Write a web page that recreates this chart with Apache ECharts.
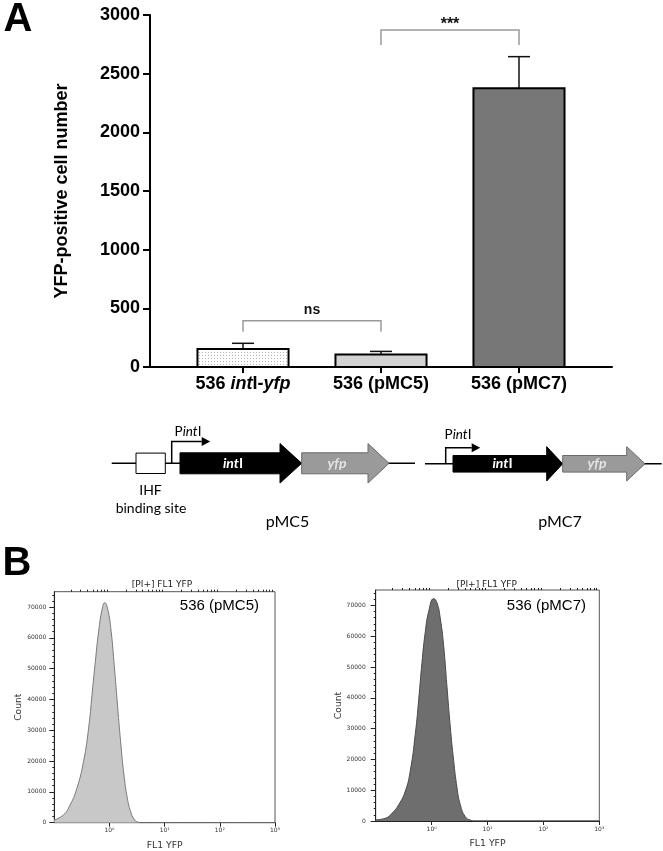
<!DOCTYPE html>
<html><head><meta charset="utf-8">
<script src="https://cdn.jsdelivr.net/npm/echarts@6/dist/echarts.min.js"></script>
<style>html,body{margin:0;padding:0;background:#fff}#c{width:663px;height:851px}</style>
</head><body><div id="c"></div>
<script>
// ---------- Panel A data ----------
const categories = ['536 intI-yfp', '536 (pMC5)', '536 (pMC7)'];
const barMeans = [153, 107, 2375];
const barErrors = [49, 26, 270];
const yTickValues = [0, 500, 1000, 1500, 2000, 2500, 3000];
const sigFrom = [0, 1];
const sigTo = [1, 2];
const sigTop = [395, 2872];
const sigDrop = [300, 2745];
const sigLabels = ['ns', '***'];
// ---------- Panel B data ----------
const pmc5FL1 = [0.1, 0.146, 0.194, 0.257, 0.339, 0.419, 0.483, 0.555, 0.637, 0.735, 0.82, 0.93, 1.07, 1.23, 1.38, 1.59, 1.83, 2.11, 2.42, 2.78, 3.29, 4.0, 10, 100, 1000];
const pmc5Count = [900, 2500, 5800, 11200, 19900, 30700, 41600, 52400, 62200, 69300, 71460, 69300, 62200, 50300, 39400, 26400, 15500, 7900, 3600, 1200, 200, 0, 0, 0, 0];
const pmc7FL1 = [0.1, 0.149, 0.196, 0.258, 0.339, 0.416, 0.512, 0.588, 0.673, 0.771, 0.887, 1.09, 1.25, 1.43, 1.64, 1.88, 2.16, 2.48, 2.85, 3.26, 4.0, 4.92, 6, 10, 100, 1000];
const pmc7Count = [400, 900, 2500, 5300, 9700, 16300, 28400, 39400, 51500, 61400, 68000, 72200, 70800, 65800, 57000, 43800, 30600, 19600, 10800, 5300, 1400, 300, 0, 0, 0, 0];
const histYTicks = [0, 10000, 20000, 30000, 40000, 50000, 60000, 70000];
const histXTicks = [1, 10, 100, 1000];
const histXTickLabels = ['10\u2070', '10\u00b9', '10\u00b2', '10\u00b3'];
const histTitles = ['536 (pMC5)', '536 (pMC7)'];

// ---------- styling ----------
const AR = '"Liberation Sans", Arial, sans-serif';
const DJ = '"DejaVu Sans", sans-serif';
const LT = 'Lato, "Open Sans", sans-serif';

const pc = document.createElement('canvas');
pc.width = 3; pc.height = 3;
const pctx = pc.getContext('2d');
pctx.fillStyle = '#fff'; pctx.fillRect(0, 0, 3, 3);
pctx.fillStyle = '#b4b4b4'; pctx.fillRect(1, 1, 1, 1);
const barFills = [{image: pc, repeat: 'repeat'}, '#d3d3d3', '#777777'];
const BAR_HALF = 0.33, CAP_HALF = 0.08;
const sigTextOffset = [-11, -5];

function richLabel(name) {
  const parts = name.split(/(int|yfp)/).filter(s => s.length);
  return parts.map(p => (p === 'int' || p === 'yfp') ? '{bi|' + p + '}' : '{b|' + p + '}').join('');
}

const minorLog = [];
[0.1, 1, 10, 100].forEach(d => { for (let k = 2; k <= 9; k++) minorLog.push(+(d * k).toPrecision(3)); });

function histAxesX(gi) {
  return [
    {type: 'log', gridIndex: gi, min: 0.1, max: 1000, logBase: 10,
     name: 'FL1 YFP', nameLocation: 'middle', nameGap: 18,
     nameTextStyle: {fontFamily: DJ, fontSize: 9.3, color: '#333'},
     axisLine: {lineStyle: {color: '#222', width: 1}},
     axisTick: {customValues: histXTicks, length: 4, lineStyle: {color: '#222'}},
     axisLabel: {customValues: histXTicks, formatter: v => histXTickLabels[histXTicks.indexOf(v)] || '',
       fontFamily: DJ, fontSize: 6, color: '#333', margin: 5},
     splitLine: {show: false}},
    {type: 'log', gridIndex: gi, min: 0.1, max: 1000, logBase: 10,
     axisLine: {show: false},
     axisTick: {customValues: minorLog, length: 2, lineStyle: {color: '#222'}},
     axisLabel: {show: false}, splitLine: {show: false}}
  ];
}
function histAxisY(gi, margin, gap) {
  return {type: 'value', gridIndex: gi, min: 0, max: 75000, interval: 10000,
    name: 'Count', nameLocation: 'middle', nameGap: gap, nameRotate: 90,
    nameTextStyle: {fontFamily: DJ, fontSize: 9.2, color: '#333'},
    axisLine: {show: true, onZero: false, lineStyle: {color: '#222', width: 1}},
    axisTick: {customValues: histYTicks, length: 5, lineStyle: {color: '#222'}},
    minorTick: {show: true, splitNumber: 5, length: 2, lineStyle: {color: '#222'}},
    axisLabel: {customValues: histYTicks, formatter: v => String(v), fontFamily: DJ, fontSize: 6, color: '#333', margin: margin},
    splitLine: {show: false}, minorSplitLine: {show: false}};
}

// ---------- diagram helpers (schematic, not data) ----------
function arrowPts(x0, xh, x1, yc, bh, hh) {
  return [[x0, yc - bh / 2], [xh, yc - bh / 2], [xh, yc - hh / 2], [x1, yc], [xh, yc + hh / 2], [xh, yc + bh / 2], [x0, yc + bh / 2]];
}
function txt(x, y, text, opt) {
  return {type: 'text', z: 10, style: Object.assign({x: x, y: y, text: text, textAlign: 'center', textVerticalAlign: 'middle',
    align: 'center', verticalAlign: 'middle', fill: '#000'}, opt)};
}
const promoRich = {
  n: {fontFamily: LT, fontSize: 13.5, fill: '#000', color: '#000'},
  i: {fontFamily: LT, fontSize: 13.5, fontStyle: 'italic', fill: '#000', color: '#000'}
};
const intRich = {
  i: {fontFamily: LT, fontSize: 14, fontWeight: 'bold', fontStyle: 'italic', fill: '#fff', color: '#fff'},
  n: {fontFamily: LT, fontSize: 14, fontWeight: 'bold', fill: '#fff', color: '#fff'}
};
function construct(o) {
  const els = [];
  els.push({type: 'line', shape: {x1: o.lineStart, y1: o.yc, x2: o.lineEnd, y2: o.yc}, style: {stroke: '#000', lineWidth: 1.5}});
  if (o.box) els.push({type: 'rect', z: 5, shape: {x: o.box[0], y: o.yc - 10.2, width: o.box[1] - o.box[0], height: 20.4}, style: {fill: '#fff', stroke: '#000', lineWidth: 1}});
  els.push({type: 'polyline', z: 5, shape: {points: [[o.promX, o.yc], [o.promX, o.promY], [o.promHead, o.promY]]}, style: {stroke: '#000', lineWidth: 1.5, fill: null}});
  els.push({type: 'polygon', z: 5, shape: {points: [[o.promHead, o.promY - 4.5], [o.promHead + 8.5, o.promY], [o.promHead, o.promY + 4.5]]}, style: {fill: '#000'}});
  els.push({type: 'polygon', z: 6, shape: {points: arrowPts(o.int[0], o.int[1], o.int[2], o.yc, o.bh, o.hh)}, style: {fill: '#000', stroke: '#000', lineWidth: 1}});
  els.push({type: 'polygon', z: 6, shape: {points: arrowPts(o.yfp[0], o.yfp[1], o.yfp[2], o.yc, o.bh, o.hh)}, style: {fill: '#9a9a9a', stroke: '#6a6a6a', lineWidth: 1}});
  els.push({type: 'text', z: 10, style: {x: o.promTx, y: o.promTy, text: '{n|P}{i|int}{n|I}', rich: promoRich, textAlign: 'center', textVerticalAlign: 'middle', align: 'center', verticalAlign: 'middle'}});
  els.push({type: 'text', z: 10, style: {x: o.intTx, y: o.yc, text: '{i|int}{n|I}', rich: intRich, fill: '#fff', textAlign: 'center', textVerticalAlign: 'middle', align: 'center', verticalAlign: 'middle'}});
  els.push(txt(o.yfpTx, o.yc, 'yfp', {fontFamily: LT, fontSize: 14, fontWeight: 'bold', fontStyle: 'italic', fill: '#e4e4e4'}));
  els.push(txt(o.nameX, 521.5, o.name, {fontFamily: LT, fontSize: 16}));
  return els;
}

const graphics = [].concat(
  construct({yc: 463.3, lineStart: 111.7, lineEnd: 415, box: [136, 165.3], promX: 171.7, promY: 441.5, promHead: 201.7,
    int: [180, 280, 301.7], yfp: [301.7, 368, 389], bh: 21, hh: 39.5, promTx: 188, promTy: 431.5, intTx: 233, yfpTx: 337, nameX: 287.5, name: 'pMC5'}),
  construct({yc: 463.8, lineStart: 425, lineEnd: 661.7, promX: 445.7, promY: 447.8, promHead: 471.7,
    int: [453, 546.7, 562.7], yfp: [562.7, 626.7, 645], bh: 16.6, hh: 34.3, promTx: 458, promTy: 434.5, intTx: 502.5, yfpTx: 597, nameX: 560, name: 'pMC7'}),
  [
    txt(150.5, 490.7, 'IHF', {fontFamily: LT, fontSize: 14}),
    txt(151, 508, 'binding site', {fontFamily: LT, fontSize: 14}),
    txt(18, 20, 'A', {fontFamily: AR, fontSize: 40, fontWeight: 'bold'}),
    txt(17, 564, 'B', {fontFamily: AR, fontSize: 40, fontWeight: 'bold'}),
    txt(162, 585, '[PI+] FL1 YFP', {fontFamily: DJ, fontSize: 9, fill: '#222'}),
    txt(486.7, 585, '[PI+] FL1 YFP', {fontFamily: DJ, fontSize: 9, fill: '#222'}),
    txt(259, 606, histTitles[0], {fontFamily: AR, fontSize: 15, textAlign: 'right', align: 'right'}),
    txt(586, 606, histTitles[1], {fontFamily: AR, fontSize: 15, textAlign: 'right', align: 'right'})
  ]
);

const chart = echarts.init(document.getElementById('c'), null, {renderer: 'canvas'});
chart.setOption({
  backgroundColor: '#fff',
  animation: false,
  grid: [
    {left: 150, top: 15, width: 462, height: 352},
    {left: 54.3, top: 591.7, width: 220.7, height: 231, show: true, borderColor: '#555', borderWidth: 1},
    {left: 375.7, top: 590, width: 223.6, height: 231, show: true, borderColor: '#555', borderWidth: 1}
  ],
  xAxis: [
    {type: 'value', gridIndex: 0, min: -0.674, max: 2.674,
     axisLine: {onZero: true, lineStyle: {color: '#000', width: 2}},
     axisTick: {customValues: [0, 1, 2], length: 6, lineStyle: {color: '#000', width: 2}},
     axisLabel: {customValues: [0, 1, 2], margin: 8, formatter: v => richLabel(categories[Math.round(v)]),
       rich: {b: {fontFamily: AR, fontSize: 18, fontWeight: 'bold', color: '#000'},
              bi: {fontFamily: AR, fontSize: 18, fontWeight: 'bold', fontStyle: 'italic', color: '#000'}}},
     splitLine: {show: false}}
  ].concat(histAxesX(1), histAxesX(2)),
  yAxis: [
    {type: 'value', gridIndex: 0, min: 0, max: 3000, interval: 500,
     name: 'YFP-positive cell number', nameLocation: 'middle', nameRotate: 90, nameGap: 79,
     nameTextStyle: {fontFamily: AR, fontSize: 18, fontWeight: 'bold', color: '#000'},
     axisLine: {show: true, onZero: false, lineStyle: {color: '#000', width: 2}},
     axisTick: {customValues: yTickValues, length: 7, lineStyle: {color: '#000', width: 2}},
     axisLabel: {customValues: yTickValues, formatter: v => String(v), fontFamily: AR, fontSize: 18, fontWeight: 'bold', color: '#000', margin: 10},
     splitLine: {show: false}},
    histAxisY(1, 8, 29),
    histAxisY(2, 10, 30)
  ],
  series: [
    {type: 'custom', xAxisIndex: 0, yAxisIndex: 0, clip: false,
     data: barMeans.map((v, i) => [i, v, barErrors[i]]),
     encode: {x: 0, y: 1},
     renderItem: (params, api) => {
       const i = params.dataIndex;
       const x = api.value(0), v = api.value(1), e = api.value(2);
       const tl = api.coord([x - BAR_HALF, v]);
       const br = api.coord([x + BAR_HALF, 0]);
       const top = api.coord([x, v + e]);
       const c0 = api.coord([x - CAP_HALF, v + e]), c1 = api.coord([x + CAP_HALF, v + e]);
       return {type: 'group', children: [
         {type: 'line', shape: {x1: top[0], y1: tl[1], x2: top[0], y2: top[1]}, style: {stroke: '#111', lineWidth: 1.5}},
         {type: 'line', shape: {x1: c0[0], y1: c0[1], x2: c1[0], y2: c1[1]}, style: {stroke: '#111', lineWidth: 1.5}},
         {type: 'rect', shape: {x: tl[0], y: tl[1], width: br[0] - tl[0], height: br[1] - tl[1]}, style: {fill: barFills[i], stroke: '#000', lineWidth: 2}}
       ]};
     }},
    {type: 'custom', xAxisIndex: 0, yAxisIndex: 0, clip: false,
     data: sigFrom.map((f, i) => [f, sigTo[i], sigTop[i], sigDrop[i]]),
     encode: {x: [0, 1], y: [2, 3]},
     renderItem: (params, api) => {
       const i = params.dataIndex;
       const a = api.coord([api.value(0), api.value(3)]);
       const b = api.coord([api.value(0), api.value(2)]);
       const c = api.coord([api.value(1), api.value(2)]);
       const d = api.coord([api.value(1), api.value(3)]);
       return {type: 'group', children: [
         {type: 'polyline', shape: {points: [a, b, c, d]}, style: {stroke: '#9a9a9a', lineWidth: 1.5, fill: null}},
         {type: 'text', style: {x: (b[0] + c[0]) / 2, y: b[1] + sigTextOffset[i], text: sigLabels[i],
           textAlign: 'center', textVerticalAlign: 'middle', align: 'center', verticalAlign: 'middle',
           fontFamily: AR, fontSize: i === 0 ? 14 : 16, fontWeight: 'bold', fill: '#111'}}
       ]};
     }},
    {type: 'line', xAxisIndex: 1, yAxisIndex: 1, data: pmc5FL1.map((x, i) => [x, pmc5Count[i]]),
     smooth: 0.5, showSymbol: false, symbol: 'none',
     lineStyle: {color: '#7a7a7a', width: 1}, areaStyle: {color: '#c8c8c8', opacity: 1}},
    {type: 'line', xAxisIndex: 3, yAxisIndex: 2, data: pmc7FL1.map((x, i) => [x, pmc7Count[i]]),
     smooth: 0.5, showSymbol: false, symbol: 'none',
     lineStyle: {color: '#4a4a4a', width: 1}, areaStyle: {color: '#6e6e6e', opacity: 1}}
  ],
  graphic: {elements: graphics}
});
</script>
</body></html>
